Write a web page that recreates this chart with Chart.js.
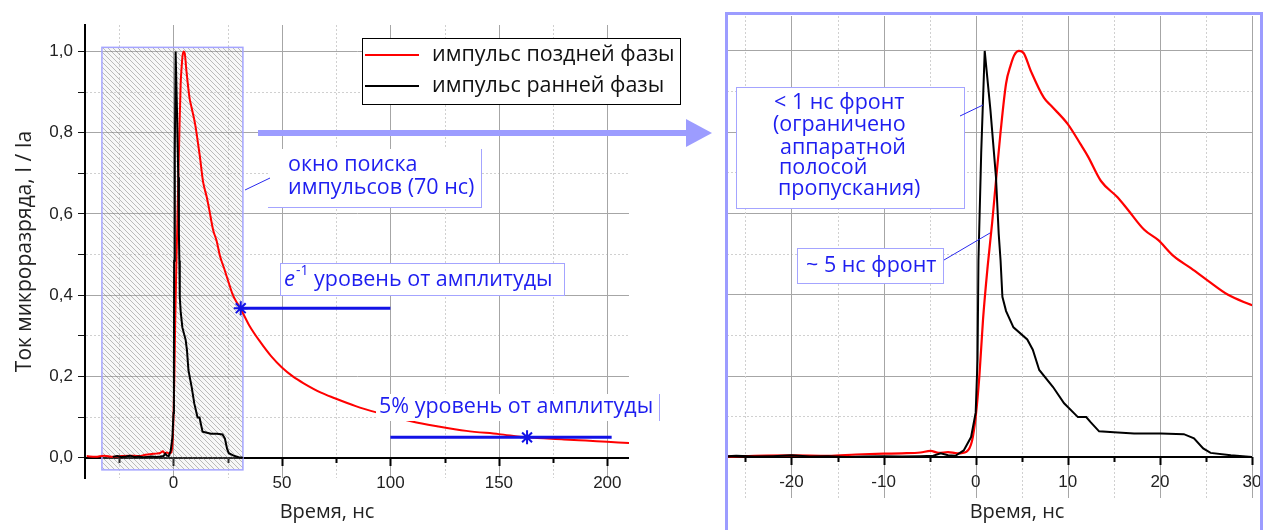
<!DOCTYPE html>
<html>
<head>
<meta charset="utf-8">
<script src="https://cdn.jsdelivr.net/npm/chart.js@4.4.1/dist/chart.umd.min.js"></script>
<style>
  body { margin: 0; background: #fff; width: 1263px; height: 530px; overflow: hidden; position: relative; }
  canvas { position: absolute; top: 0; }
  #left { left: 0; }
  #right { left: 725px; }
</style>
</head>
<body>
<canvas id="left" width="725" height="530"></canvas>
<canvas id="right" width="538" height="530"></canvas>
<script>
// late phase pulse (red), time in ns, current normalised to amplitude
const lateT = [-40, -36, -32, -28, -24, -20, -16, -13, -10, -8, -6, -4.9, -4, -3, -2, -1, -0.4, 0, 0.4, 0.8, 1.3, 1.8, 2.2, 2.7, 3.3, 3.8, 4.2, 4.7, 5.2, 6, 7.4, 8.2, 10, 11.4, 12.2, 13.6, 15.4, 16.5, 18.3, 19.8, 21.5, 23.4, 25.2, 27.4, 29.6, 31, 35, 40, 45, 50, 55, 60, 68, 74, 84, 94, 110, 122, 135, 150, 163, 180, 190, 200, 210];
const lateI = [0.004, 0.002, 0.005, 0.002, 0.004, 0.005, 0.004, 0.007, 0.009, 0.010, 0.012, 0.016, 0.011, 0.013, 0.010, 0.014, 0.04, 0.10, 0.20, 0.34, 0.47, 0.58, 0.68, 0.80, 0.92, 0.965, 0.99, 1.0, 0.995, 0.95, 0.885, 0.865, 0.82, 0.77, 0.74, 0.68, 0.64, 0.61, 0.56, 0.535, 0.495, 0.465, 0.435, 0.40, 0.378, 0.366, 0.325, 0.285, 0.25, 0.222, 0.20, 0.183, 0.16, 0.147, 0.127, 0.111, 0.089, 0.077, 0.066, 0.058, 0.050, 0.045, 0.042, 0.039, 0.036];

// early phase pulse (black)
const earlyT = [-28, -26, -24, -22, -20, -18, -16, -14, -12, -10, -8, -6, -4.6, -3.8, -3, -2.2, -1.3, -0.5, 0, 0.2, 0.3, 0.6, 0.98, 1.6, 2.2, 2.5, 2.7, 2.9, 3.3, 4.1, 5.6, 6.2, 6.9, 8.4, 9.6, 11.1, 12, 12.5, 13.4, 15, 17.2, 20.1, 22.6, 23.7, 24.7, 25.5, 27.7, 30, 32];
const earlyI = [0.002, 0.004, 0.002, 0.003, 0.005, 0.002, 0.003, 0.001, 0.002, 0.003, 0.002, 0.003, 0.004, 0.010, 0.005, 0.004, 0.017, 0.05, 0.11, 0.24, 0.485, 0.75, 1.0, 0.855, 0.69, 0.55, 0.485, 0.395, 0.36, 0.32, 0.29, 0.265, 0.215, 0.173, 0.133, 0.099, 0.099, 0.086, 0.064, 0.062, 0.059, 0.059, 0.057, 0.047, 0.022, 0.011, 0.005, 0.001, 0.0];

// level markers
const eLevel = 0.368;
const eLevelT = [31, 100];
const fiveLevel = 0.05;
const fiveLevelT = [100, 163, 202];
const searchWindow = [-33, 32];

// tick labels
const leftXLabels = [0, 50, 100, 150, 200];
const rightXLabels = [-20, -10, 0, 10, 20, 30];
const yLabels = ['0,0', '0,2', '0,4', '0,6', '0,8', '1,0'];

const RED = '#ff0000';
const BLUE = '#1212e6';
const TEXT_BLUE = '#1e1ef0';
const FRAME = '#9c9cff';
const SANS = '"Open Sans", "Noto Sans", sans-serif';
const ARIAL = '"Liberation Sans", Arial, sans-serif';
const NOTE = 21.5;
const MAJOR_GRID = '#a6a6a6';
const MINOR_GRID = '#d0d0d0';

Chart.defaults.font.family = ARIAL;
Chart.defaults.color = '#222';

const zip = (xs, ys) => xs.map((x, i) => ({ x, y: ys[i] }));
const level = (ts, v) => ts.map(t => ({ x: t, y: v }));
const isMajor = (v, step) => Math.abs(v / step - Math.round(v / step)) < 1e-6;

const yGrid = hideBelow => ({
  grid: {
    color: c => (!c.tick || c.tick.value < hideBelow) ? 'rgba(0,0,0,0)' : isMajor(c.tick.value, 0.2) ? MAJOR_GRID : MINOR_GRID,
    lineWidth: 1,
    tickColor: '#111',
    tickLength: 7
  },
  border: {
    color: '#000',
    width: 2,
    dash: c => (c.tick && !isMajor(c.tick.value, 0.2)) ? [2, 2] : []
  }
});

const yTick = v => {
  const k = Math.round(v * 10);
  return k >= 0 && k % 2 === 0 ? yLabels[k / 2] : '';
};

// vertical grid, x axis through y = 0 and its labels, all from the x scale ticks
function timeAxis(chart, step) {
  const { ctx, chartArea, scales: { x, y } } = chart;
  const y0 = Math.round(y.getPixelForValue(0));
  ctx.save();
  x.ticks.forEach(t => {
    const px = Math.round(x.getPixelForValue(t.value)) + 0.5;
    const major = isMajor(t.value, step);
    ctx.strokeStyle = major ? MAJOR_GRID : MINOR_GRID;
    ctx.lineWidth = 1;
    ctx.setLineDash(major ? [] : [2, 2]);
    ctx.beginPath(); ctx.moveTo(px, chartArea.top); ctx.lineTo(px, chartArea.bottom); ctx.stroke();
  });
  ctx.setLineDash([]);
  ctx.strokeStyle = '#000';
  ctx.lineWidth = 2;
  ctx.beginPath();
  ctx.moveTo(chartArea.left, y0);
  ctx.lineTo(chartArea.right, y0);
  x.ticks.forEach(t => {
    const px = Math.round(x.getPixelForValue(t.value)) + 0.5;
    ctx.moveTo(px, y0);
    ctx.lineTo(px, y0 + (isMajor(t.value, step) ? 8 : 5));
  });
  ctx.stroke();
  ctx.font = '17px ' + ARIAL;
  ctx.fillStyle = '#222';
  ctx.textAlign = 'center';
  ctx.textBaseline = 'middle';
  x.ticks.forEach(t => {
    if (t.label) ctx.fillText(t.label, x.getPixelForValue(t.value), y0 + 25);
  });
  ctx.restore();
}

function hatch(ctx) {
  const c = document.createElement('canvas');
  c.width = c.height = 5;
  const g = c.getContext('2d');
  g.strokeStyle = 'rgba(100,100,100,0.42)';
  g.lineWidth = 1;
  g.beginPath();
  g.moveTo(0, 0); g.lineTo(5, 5);
  g.moveTo(-1, 4); g.lineTo(1, 6);
  g.moveTo(4, -1); g.lineTo(6, 1);
  g.stroke();
  return ctx.createPattern(c, 'repeat');
}

function text(ctx, s, x, y, size, color, font, align) {
  ctx.font = size + 'px ' + (font || SANS);
  ctx.fillStyle = color || TEXT_BLUE;
  ctx.textAlign = align || 'left';
  ctx.textBaseline = 'middle';
  ctx.fillText(s, x, y);
  return ctx.measureText(s).width;
}

function whiteBox(ctx, x, y, w, h, sides) {
  ctx.fillStyle = '#fff';
  ctx.fillRect(x, y, w, h);
  ctx.strokeStyle = '#a4a4ff';
  ctx.lineWidth = 1;
  ctx.beginPath();
  if (sides.includes('t')) { ctx.moveTo(x, y + 0.5); ctx.lineTo(x + w, y + 0.5); }
  if (sides.includes('r')) { ctx.moveTo(x + w - 0.5, y); ctx.lineTo(x + w - 0.5, y + h); }
  if (sides.includes('b')) { ctx.moveTo(x, y + h - 0.5); ctx.lineTo(x + w, y + h - 0.5); }
  if (sides.includes('l')) { ctx.moveTo(x + 0.5, y); ctx.lineTo(x + 0.5, y + h); }
  ctx.stroke();
}

function leader(ctx, x1, y1, x2, y2) {
  ctx.strokeStyle = '#2a2aee';
  ctx.lineWidth = 1;
  ctx.beginPath(); ctx.moveTo(x1, y1); ctx.lineTo(x2, y2); ctx.stroke();
}

const leftDecor = {
  id: 'leftDecor',
  beforeDatasetsDraw(chart) {
    const { ctx, scales: { x, y } } = chart;
    timeAxis(chart, 50);
    const x1 = x.getPixelForValue(searchWindow[0]), x2 = x.getPixelForValue(searchWindow[1]);
    const y1 = y.getPixelForValue(1.01), y2 = y.getPixelForValue(-0.03);
    ctx.save();
    ctx.fillStyle = 'rgba(215,215,215,0.2)';
    ctx.fillRect(x1, y1, x2 - x1, y2 - y1);
    ctx.fillStyle = hatch(ctx);
    ctx.fillRect(x1, y1, x2 - x1, y2 - y1);
    ctx.strokeStyle = '#a5a5ff';
    ctx.lineWidth = 1.5;
    ctx.strokeRect(x1, y1, x2 - x1, y2 - y1);
    ctx.restore();
  },
  afterDraw(chart) {
    const ctx = chart.ctx;
    ctx.save();
    // legend
    ctx.fillStyle = '#fff';
    ctx.fillRect(362, 38, 318, 66);
    ctx.strokeStyle = '#000';
    ctx.lineWidth = 1;
    ctx.strokeRect(362.5, 38.5, 318, 66);
    chart.data.datasets.slice(0, 2).forEach((d, i) => {
      const ly = 55 + i * 31;
      ctx.strokeStyle = d.borderColor;
      ctx.lineWidth = 2;
      ctx.beginPath(); ctx.moveTo(365, ly); ctx.lineTo(419, ly); ctx.stroke();
      text(ctx, d.label, 432, ly, NOTE, '#111');
    });
    // arrow to zoomed view
    ctx.fillStyle = FRAME;
    ctx.fillRect(258, 130, 430, 6);
    ctx.beginPath(); ctx.moveTo(686, 119); ctx.lineTo(712, 133); ctx.lineTo(686, 147); ctx.closePath(); ctx.fill();
    // search window note
    whiteBox(ctx, 268, 149, 214, 59, 'rb');
    leader(ctx, 245, 190, 270, 178);
    text(ctx, 'окно поиска', 288, 165, NOTE);
    text(ctx, 'импульсов (70 нс)', 288, 188, NOTE);
    // e^-1 note
    whiteBox(ctx, 280, 263, 285, 33, 'trbl');
    ctx.font = 'italic 22px ' + SANS;
    const we = ctx.measureText('e').width;
    ctx.fillStyle = TEXT_BLUE; ctx.textBaseline = 'middle'; ctx.textAlign = 'left';
    ctx.fillText('e', 284, 280);
    const ws = text(ctx, '-1', 284 + we + 1, 271, 14);
    text(ctx, ' уровень от амплитуды', 284 + we + ws + 1, 280, NOTE);
    // 5% note
    whiteBox(ctx, 376, 394, 284, 27, 'r');
    text(ctx, '5% уровень от амплитуды', 379, 407, NOTE);
    // axis title
    text(ctx, 'Время, нс', 327, 512, 20, '#222', SANS, 'center');
    ctx.restore();
  }
};

const rightDecor = {
  id: 'rightDecor',
  beforeDatasetsDraw(chart) {
    timeAxis(chart, 10);
  },
  afterDraw(chart) {
    const ctx = chart.ctx;
    ctx.save();
    whiteBox(ctx, 11, 87, 229, 122, 'trbl');
    leader(ctx, 235, 116, 258, 105);
    const lines = [['< 1 нс фронт', 49, 103], ['(ограничено', 48, 125], ['аппаратной', 55, 148], ['полосой', 54, 168], ['пропускания)', 53, 189]];
    lines.forEach(([s, lx, ly]) => text(ctx, s, lx, ly, NOTE));
    whiteBox(ctx, 72, 248, 147, 36, 'trbl');
    leader(ctx, 219, 260, 265, 233);
    text(ctx, '~ 5 нс фронт', 81, 266, NOTE);
    text(ctx, 'Время, нс', 292, 512, 20, '#222', SANS, 'center');
    ctx.strokeStyle = FRAME;
    ctx.lineWidth = 3;
    ctx.strokeRect(1.5, 13.5, 535, 540);
    ctx.restore();
  }
};

const tickFont = { size: 17 };
const fitX = h => s => { s.height = h; s.paddingLeft = 0; s.paddingRight = 0; };
// range must not be a whole number of steps, or Chart.js starts the ticks at min
const timeScale = (min, max, step, labels, h) => ({
  type: 'linear', min, max, position: 'bottom',
  ticks: { stepSize: step, includeBounds: false, autoSkip: false, maxRotation: 0, display: false,
    callback: v => labels.includes(v) ? String(v) : '' },
  grid: { display: false },
  border: { display: false },
  afterFit: fitX(h)
});

const leftY = yGrid(-1e-9);
new Chart(document.getElementById('left'), {
  type: 'line',
  data: {
    datasets: [
      { label: 'импульс поздней фазы', data: zip(lateT, lateI), borderColor: RED, borderWidth: 2, pointRadius: 0, cubicInterpolationMode: 'monotone', order: 2 },
      { label: 'импульс ранней фазы', data: zip(earlyT, earlyI), borderColor: '#000', borderWidth: 2, pointRadius: 0, order: 1 },
      { label: 'e-1', data: level(eLevelT, eLevel), borderColor: BLUE, borderWidth: 3, pointStyle: 'star', pointRadius: [7, 0], pointBorderColor: BLUE, pointBorderWidth: 2, order: 0 },
      { label: '5%', data: level(fiveLevelT, fiveLevel), borderColor: BLUE, borderWidth: 3, pointStyle: 'star', pointRadius: [0, 7, 0], pointBorderColor: BLUE, pointBorderWidth: 2, order: 0 }
    ]
  },
  options: {
    responsive: false, animation: false, devicePixelRatio: 1,
    layout: { padding: { left: 0, top: 25, right: 96, bottom: 0 } },
    plugins: { legend: { display: false }, tooltip: { enabled: false } },
    scales: {
      x: timeScale(-40.8, 210, 25, leftXLabels, 52),
      y: {
        min: -0.05, max: 1.065,
        ticks: { stepSize: 0.1, includeBounds: false, padding: 5, font: tickFont, callback: yTick },
        grid: leftY.grid, border: leftY.border,
        title: { display: true, text: 'Ток микроразряда, I / Ia', font: { size: 21, family: SANS }, padding: { top: 12, bottom: 0 } },
        afterFit: s => { s.width = 85; }
      }
    }
  },
  plugins: [leftDecor]
});

const rightY = yGrid(-1e-9);
new Chart(document.getElementById('right'), {
  type: 'line',
  data: {
    datasets: [
      { label: 'импульс поздней фазы', data: zip(lateT, lateI), borderColor: RED, borderWidth: 2.2, pointRadius: 0, cubicInterpolationMode: 'monotone', order: 2 },
      { label: 'импульс ранней фазы', data: zip(earlyT, earlyI), borderColor: '#000', borderWidth: 2, pointRadius: 0, order: 1 }
    ]
  },
  options: {
    responsive: false, animation: false, devicePixelRatio: 1,
    layout: { padding: { left: 2, top: 16, right: 11, bottom: 0 } },
    plugins: { legend: { display: false }, tooltip: { enabled: false } },
    scales: {
      x: timeScale(-27, 30, 5, rightXLabels, 32),
      y: {
        min: -0.1, max: 1.086,
        ticks: { display: false, stepSize: 0.1, includeBounds: false },
        grid: Object.assign({}, rightY.grid, { drawTicks: false }),
        border: Object.assign({}, rightY.border, { display: false }),
        afterFit: s => { s.width = 0; }
      }
    }
  },
  plugins: [rightDecor]
});
</script>
</body>
</html>
